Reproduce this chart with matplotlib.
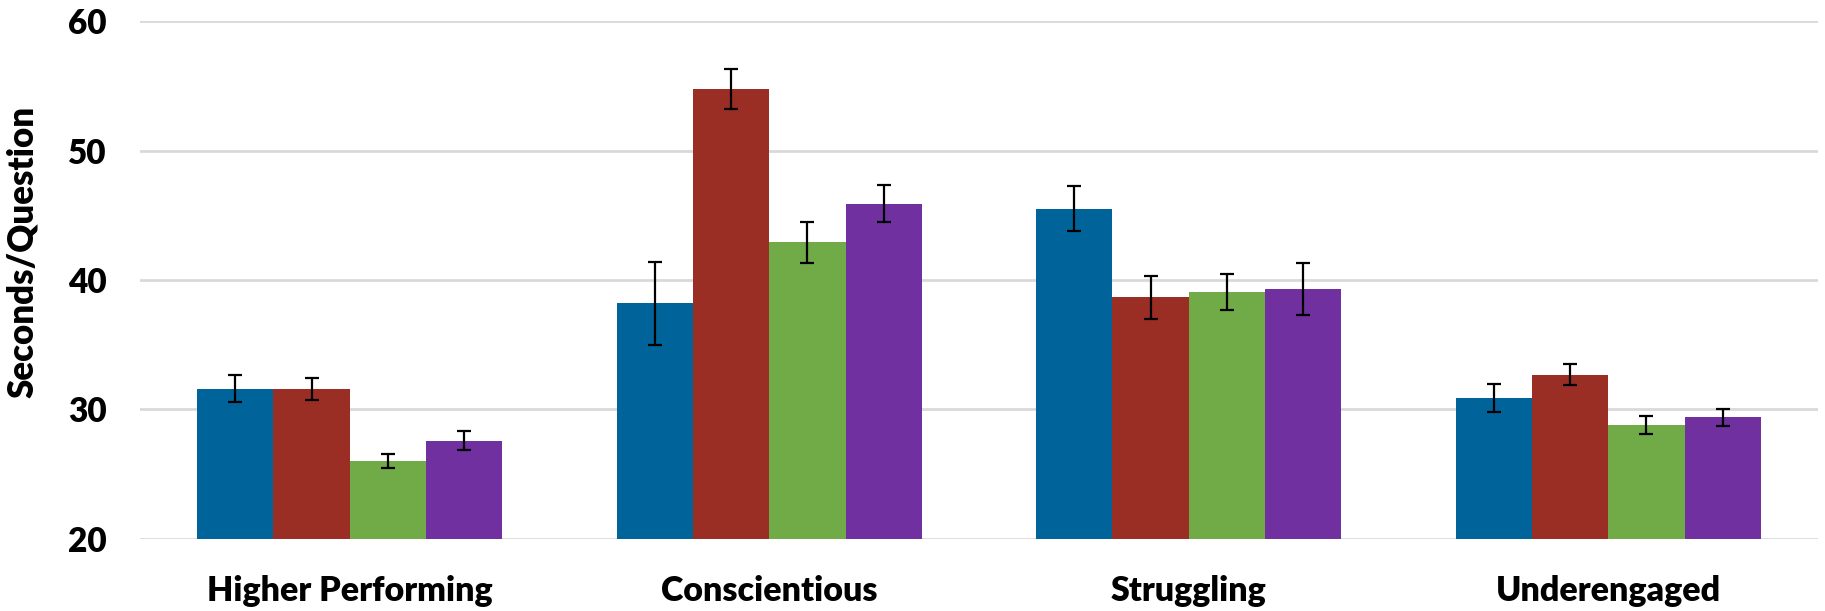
import matplotlib
matplotlib.use("Agg")
import matplotlib.pyplot as plt
import numpy as np

categories = ["Higher Performing", "Conscientious", "Struggling", "Underengaged"]
series_a = [31.6, 38.2, 45.5, 30.9]
series_b = [31.6, 54.75, 38.65, 32.7]
series_c = [26.0, 42.9, 39.1, 28.8]
series_d = [27.6, 45.9, 39.3, 29.4]
err_a = [1.05, 3.2, 1.75, 1.07]
err_b = [0.83, 1.56, 1.65, 0.84]
err_c = [0.55, 1.56, 1.4, 0.73]
err_d = [0.73, 1.4, 1.98, 0.66]
yticks = [20, 30, 40, 50, 60]

colors = ["#00639A", "#9A2E24", "#71AB48", "#7030A0"]
series = [series_a, series_b, series_c, series_d]
errs = [err_a, err_b, err_c, err_d]

plt.rcParams['font.family'] = ['Lato', 'DejaVu Sans']

fig = plt.figure(figsize=(18.25, 6.11), dpi=100)
ax = fig.add_axes([140/1825, 1 - 539/611, (1818-140)/1825, (539-21)/611])

x = np.arange(len(categories))
bw = 1/5.5
for i, (vals, er, c) in enumerate(zip(series, errs, colors)):
    pos = x + (i - 1.5) * bw
    ax.bar(pos, np.array(vals) - 20, bottom=20, width=bw, color=c, zorder=2,
           edgecolor='none')
    ax.errorbar(pos, vals, yerr=er, fmt='none', ecolor='black', elinewidth=1.6,
                capsize=5, capthick=1.6, zorder=3)

ax.set_xlim(-0.5, 3.5)
ax.set_ylim(20, 60)
ax.set_yticks(yticks)
ax.set_yticklabels([str(t) for t in yticks], fontsize=24, fontweight='heavy')
ax.set_xticks(x)
ax.set_xticklabels(categories, fontsize=24.5, fontweight='heavy')
ax.tick_params(axis='y', length=0, pad=24)
ax.tick_params(axis='x', length=0, pad=26)
ax.grid(axis='y', color='#D9D9D9', linewidth=2, zorder=0)
for s in ax.spines.values():
    s.set_visible(False)
ax.set_ylabel("Seconds/Question", fontsize=25, fontweight='heavy')
ax.yaxis.set_label_coords(-(140 - 39)/1678, (539 - 252)/518)

fig.savefig("out.png", dpi=100, facecolor='white')
